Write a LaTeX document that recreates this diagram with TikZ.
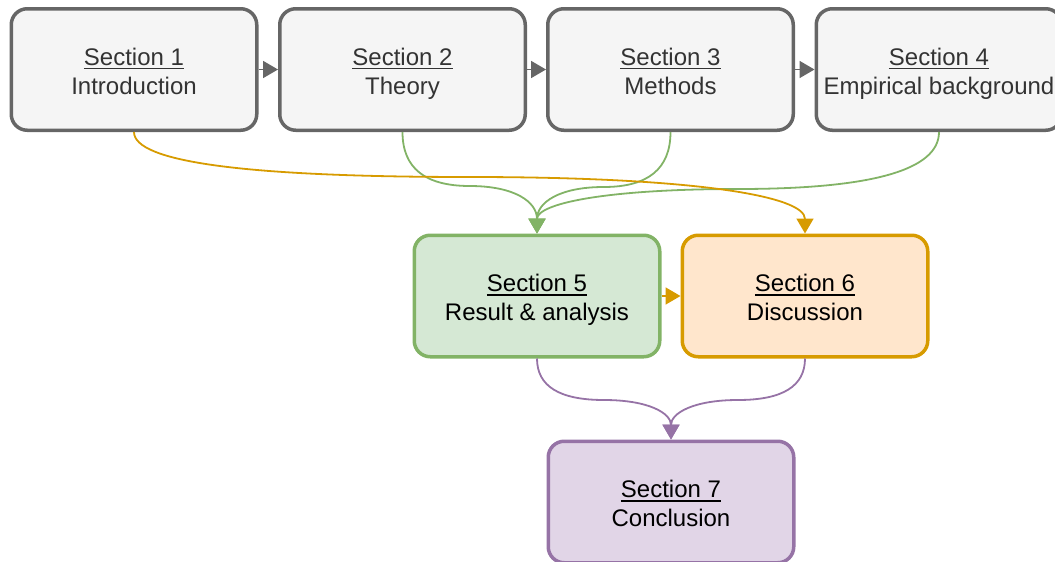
\documentclass[tikz,border=0pt]{standalone}
\usepackage{fontspec}
\setmainfont{Liberation Sans}
\usetikzlibrary{arrows.meta,calc}

\definecolor{grayfill}{HTML}{F5F5F5}
\definecolor{graystroke}{HTML}{666666}
\definecolor{graytext}{HTML}{333333}
\definecolor{greenfill}{HTML}{D5E8D4}
\definecolor{greenstroke}{HTML}{82B366}
\definecolor{orangefill}{HTML}{FFE6CC}
\definecolor{orangestroke}{HTML}{D79B00}
\definecolor{purplefill}{HTML}{E1D5E7}
\definecolor{purplestroke}{HTML}{9673A6}

% underlined heading with a heavier rule than \underline gives
\newcommand\ulsec[1]{\leavevmode\vtop{\hbox{#1}\kern2.5pt\hrule height 1.5pt}}
% two-line box label: underlined section number, then the title
\newcommand\boxtext[2]{\rule{0pt}{25pt}\ulsec{#1}\\#2\rule[-5pt]{0pt}{5pt}}

\begin{document}
\begin{tikzpicture}[x=1pt,y=1pt,
  box/.style={rounded corners=16pt, line width=3.5pt, minimum width=245.5pt,
    minimum height=121.5pt, inner sep=0pt, align=center,
    font=\fontsize{24}{29}\selectfont},
  graybox/.style={box, draw=graystroke, fill=grayfill, text=graytext},
  greenbox/.style={box, draw=greenstroke, fill=greenfill, text=black},
  orangebox/.style={box, draw=orangestroke, fill=orangefill, text=black},
  purplebox/.style={box, draw=purplestroke, fill=purplefill, text=black},
  link/.style={line width=1.8pt, -{Triangle[length=15pt,width=17pt]}},
  graylink/.style={link, draw=graystroke},
  greenlink/.style={link, draw=greenstroke},
  orangelink/.style={link, draw=orangestroke},
  purplelink/.style={link, draw=purplestroke},
  % vertical-horizontal-vertical route smoothed into two quadratic arcs,
  % the horizontal run sitting at height #1
  elbow/.style={to path={
    let \p1=(\tikztostart), \p2=(\tikztotarget) in
    .. controls (\x1,{\y1+2/3*((#1)-(\y1))}) and ({\x1+(\x2-\x1)/6},#1)
    .. ({(\x1+\x2)/2},#1)
    .. controls ({\x1+5*(\x2-\x1)/6},#1) and (\x2,{\y2+2/3*((#1)-(\y2))})
    .. (\tikztotarget)}}
]
\useasboundingbox (0,0) rectangle (1055,-562);
\clip (0,0) rectangle (1055,-562);

% chapter boxes
\node[graybox] (s1) at (134,-69.5) {\boxtext{Section 1}{Introduction}};
\node[graybox] (s2) at (402.5,-69.5) {\boxtext{Section 2}{Theory}};
\node[graybox] (s3) at (670.5,-69.5) {\boxtext{Section 3}{Methods}};
\node[graybox] (s4) at (939,-69.5) {\boxtext{Section 4}{Empirical background}};
\node[greenbox] (s5) at (537,-296) {\boxtext{Section 5}{Result \& analysis}};
\node[orangebox] (s6) at (805,-296) {\boxtext{Section 6}{Discussion}};
\node[purplebox] (s7) at (671,-502) {\boxtext{Section 7}{Conclusion}};

% reading order along the top row
\draw[graylink] (s1.east) -- (s2.west);
\draw[graylink] (s2.east) -- (s3.west);
\draw[graylink] (s3.east) -- (s4.west);
\draw[orangelink] (s5.east) -- (s6.west);

% dependencies
\draw[greenlink] (s2.south) to[elbow=-186] (s5.north);
\draw[greenlink] (s3.south) to[elbow=-187] (s5.north);
\draw[greenlink] (s4.south) to[elbow=-189] (s5.north);
\draw[orangelink] (s1.south) to[elbow=-177] (s6.north);
\draw[purplelink] (s5.south) to[elbow=-400] (s7.north);
\draw[purplelink] (s6.south) to[elbow=-400] (s7.north);
\end{tikzpicture}
\end{document}
